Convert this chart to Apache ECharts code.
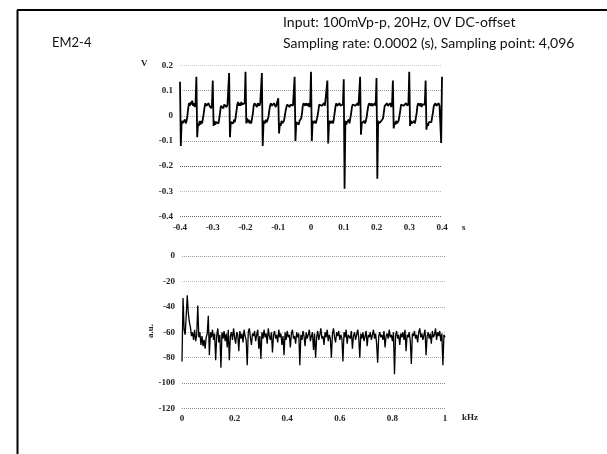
<!DOCTYPE html>
<html><head><meta charset="utf-8">
<script src="https://cdn.jsdelivr.net/npm/echarts@6/dist/echarts.min.js"></script>
<style>html,body{margin:0;padding:0;background:#fff}#c{width:607px;height:454px}</style>
</head><body><div id="c"></div>
<script>
const titleLeft = 'EM2-4';
const titleLines = ['Input: 100mVp-p, 20Hz, 0V DC-offset', 'Sampling rate: 0.0002 (s), Sampling point: 4,096'];

// time signal: sampled every 0.0025 s from -0.4 s (20 samples per 20 Hz period)
const timeStart = -0.4;
const timeStep = 0.0025;
const voltage = [
  0.135,-0.12,-0.02,-0.03,-0.025,-0.03,-0.015,-0.03,-0.02,0.0,0.03,0.05,0.04,0.055,0.045,0.06,0.04,0.05,0.035,0.05,
  0.155,-0.085,-0.03,-0.04,-0.02,-0.035,-0.02,-0.03,-0.01,0.01,0.035,0.05,0.04,0.045,0.035,0.05,0.04,0.045,0.03,0.04,
  0.14,-0.04,-0.02,-0.035,-0.025,-0.03,-0.02,-0.03,-0.01,0.015,0.04,0.035,0.045,0.03,0.045,0.04,0.05,0.035,0.045,0.04,
  0.17,-0.085,-0.025,-0.03,-0.02,-0.03,-0.015,-0.025,-0.005,0.02,0.045,0.055,0.04,0.05,0.04,0.055,0.045,0.05,0.04,0.05,
  0.175,-0.03,-0.01,-0.025,-0.015,-0.03,-0.02,-0.03,-0.01,0.01,0.04,0.05,0.045,0.05,0.035,0.05,0.045,0.04,0.05,0.045,
  0.17,-0.12,-0.03,-0.02,-0.03,-0.015,-0.025,-0.02,-0.005,0.02,0.04,0.05,0.04,0.045,0.04,0.05,0.045,0.035,0.045,0.04,
  0.07,-0.07,-0.03,-0.04,-0.02,-0.03,-0.025,-0.02,0.0,0.02,0.035,0.045,0.04,0.05,0.035,0.045,0.04,0.05,0.04,0.045,
  0.155,-0.1,-0.025,-0.03,-0.02,-0.035,-0.02,-0.025,-0.01,0.01,0.04,0.05,0.045,0.04,0.05,0.045,0.04,0.05,0.035,0.045,
  0.175,-0.1,-0.02,-0.03,-0.025,-0.02,-0.03,-0.015,0.0,0.02,0.045,0.04,0.05,0.04,0.045,0.035,0.05,0.04,0.045,0.04,
  0.14,-0.11,-0.03,-0.02,-0.03,-0.025,-0.02,-0.03,-0.01,0.015,0.04,0.05,0.04,0.045,0.035,0.05,0.04,0.045,0.035,0.045,
  0.145,-0.29,-0.02,-0.035,-0.025,-0.03,-0.015,-0.03,-0.01,0.01,0.035,0.045,0.04,0.05,0.04,0.045,0.035,0.05,0.04,0.045,
  0.155,-0.075,-0.03,-0.025,-0.035,-0.02,-0.03,-0.02,-0.005,0.02,0.04,0.05,0.045,0.04,0.05,0.04,0.045,0.035,0.05,0.04,
  0.15,-0.25,-0.02,-0.03,-0.025,-0.035,-0.02,-0.025,-0.01,0.015,0.04,0.045,0.035,0.05,0.04,0.045,0.04,0.05,0.035,0.045,
  0.14,-0.05,-0.025,-0.035,-0.02,-0.03,-0.025,-0.02,0.0,0.02,0.045,0.04,0.05,0.04,0.045,0.04,0.05,0.045,0.04,0.05,
  0.175,-0.04,-0.02,-0.03,-0.025,-0.03,-0.02,-0.03,-0.01,0.01,0.04,0.05,0.045,0.04,0.05,0.035,0.045,0.04,0.05,0.045,
  0.14,-0.055,-0.03,-0.04,-0.025,-0.03,-0.02,-0.025,-0.005,0.015,0.04,0.045,0.05,0.04,0.045,0.04,0.05,0.04,0.045,-0.108,
  0.155
];

// spectrum: every 0.004 kHz from 0 to 1 kHz
const freqStep = 0.004;
const spectrum = [
  -83,-33,-58,-62,-47,-31,-45,-52,-56,-63,
  -60,-66,-58,-67,-62,-39,-64,-60,-70,-63,
  -71,-66,-73,-64,-61,-47,-78,-60,-64,-58,
  -66,-61,-82,-63,-57,-68,-62,-88,-60,-65,
  -59,-67,-61,-72,-58,-82,-63,-60,-66,-57,
  -64,-69,-60,-62,-75,-59,-65,-61,-68,-58,
  -63,-66,-86,-60,-57,-64,-70,-61,-63,-59,
  -67,-62,-58,-73,-63,-81,-60,-65,-58,-64,
  -61,-69,-57,-63,-66,-60,-76,-62,-59,-65,
  -62,-68,-58,-64,-61,-70,-63,-78,-60,-66,
  -59,-64,-62,-72,-61,-58,-65,-63,-69,-60,
  -64,-61,-86,-62,-66,-59,-63,-71,-60,-65,
  -62,-58,-67,-63,-60,-74,-61,-80,-64,-59,
  -66,-62,-57,-65,-63,-70,-60,-64,-58,-67,
  -62,-65,-80,-61,-57,-64,-68,-60,-63,-59,
  -66,-62,-65,-83,-60,-64,-58,-69,-62,-61,
  -65,-59,-73,-63,-60,-66,-62,-58,-64,-80,
  -61,-65,-60,-67,-63,-59,-71,-62,-64,-60,
  -66,-62,-58,-65,-61,-69,-84,-63,-60,-64,
  -62,-66,-59,-72,-63,-61,-65,-58,-64,-62,
  -67,-60,-93,-63,-59,-65,-62,-70,-61,-64,
  -60,-66,-58,-75,-62,-64,-60,-67,-85,-61,
  -63,-59,-65,-62,-68,-60,-57,-64,-61,-66,
  -62,-58,-78,-63,-60,-65,-61,-69,-59,-64,
  -62,-57,-66,-60,-63,-59,-67,-61,-86,-62,
  -64
];

const timeTickLabels = ['-0.4','-0.3','-0.2','-0.1','0','0.1','0.2','0.3','0.4'];
const voltTickLabels = ['-0.4','-0.3','-0.2','-0.1','0','0.1','0.2'];
const freqTickLabels = ['0','0.2','0.4','0.6','0.8','1'];
const specTickLabels = ['-120','-100','-80','-60','-40','-20','0'];

const timeData = voltage.map((v, i) => [timeStart + i * timeStep, v]);
const freqData = spectrum.map((v, i) => [i * freqStep, v]);

const serif = 'Liberation Serif';
const lab = {fontFamily: serif, fontSize: 9, fontWeight: 'bold', color: '#222'};

const chart = echarts.init(document.getElementById('c'), null, {renderer: 'canvas'});
chart.setOption({
  animation: false,
  backgroundColor: '#fff',
  grid: [
    {left: 180, top: 65.5, width: 262, height: 151},
    {left: 182, top: 256, width: 263, height: 152.5}
  ],
  xAxis: [
    {gridIndex: 0, type: 'value', min: -0.4, max: 0.4, interval: 0.1,
     axisLine: {show: false}, axisTick: {show: false}, splitLine: {show: false},
     axisLabel: Object.assign({margin: 7, formatter: v => timeTickLabels[Math.round((v + 0.4) / 0.1)]}, lab)},
    {gridIndex: 1, type: 'value', min: 0, max: 1, interval: 0.2,
     axisLine: {show: false}, axisTick: {show: false}, splitLine: {show: false},
     axisLabel: Object.assign({margin: 6, formatter: v => freqTickLabels[Math.round(v / 0.2)]}, lab)}
  ],
  yAxis: [
    {gridIndex: 0, type: 'value', min: -0.4, max: 0.2, interval: 0.1,
     axisLine: {show: false}, axisTick: {show: false},
     splitLine: {show: true, lineStyle: {type: 'dotted', width: 1, color: ['#666', '#bbb', '#555', '#999', '#aaa', '#999', '#ccc']}},
     axisLabel: Object.assign({margin: 7, formatter: v => voltTickLabels[Math.round((v + 0.4) / 0.1)]}, lab)},
    {gridIndex: 1, type: 'value', min: -120, max: 0, interval: 20,
     axisLine: {show: false}, axisTick: {show: false},
     splitLine: {show: true, lineStyle: {type: 'dotted', width: 1, color: ['#888', '#888', '#aaa', '#bbb', '#aaa', '#bbb', '#999']}},
     axisLabel: Object.assign({margin: 7, formatter: v => specTickLabels[Math.round((v + 120) / 20)]}, lab)}
  ],
  series: [
    {type: 'line', xAxisIndex: 0, yAxisIndex: 0, data: timeData, showSymbol: false,
     lineStyle: {color: '#000', width: 1.8}},
    {type: 'line', xAxisIndex: 1, yAxisIndex: 1, data: freqData, showSymbol: false,
     lineStyle: {color: '#000', width: 1.3}}
  ],
  graphic: [
    {type: 'line', shape: {x1: 17, y1: 10, x2: 607, y2: 10}, style: {stroke: '#000', lineWidth: 2}},
    {type: 'line', shape: {x1: 17.5, y1: 10, x2: 17.5, y2: 454}, style: {stroke: '#000', lineWidth: 2}},
    {type: 'text', left: 52, top: 36, style: {text: titleLeft, font: '13px Lato', fill: '#111'}},
    {type: 'text', left: 283, top: 15, style: {text: titleLines[0], font: '14px Lato', fill: '#111'}},
    {type: 'text', left: 283, top: 36, style: {text: titleLines[1], font: '14px Lato', fill: '#111'}},
    {type: 'text', left: 141, top: 59, style: {text: 'V', font: 'bold 9px "Liberation Serif"', fill: '#222'}},
    {type: 'text', left: 462, top: 223, style: {text: 's', font: 'bold 9px "Liberation Serif"', fill: '#222'}},
    {type: 'text', left: 462, top: 413, style: {text: 'kHz', font: 'bold 9px "Liberation Serif"', fill: '#222'}},
    {type: 'text', x: 151, y: 331, rotation: Math.PI / 2, style: {text: 'a.u.', font: 'bold 9px "Liberation Serif"', fill: '#222', align: 'center', verticalAlign: 'middle'}}
  ]
});
</script>
</body></html>
